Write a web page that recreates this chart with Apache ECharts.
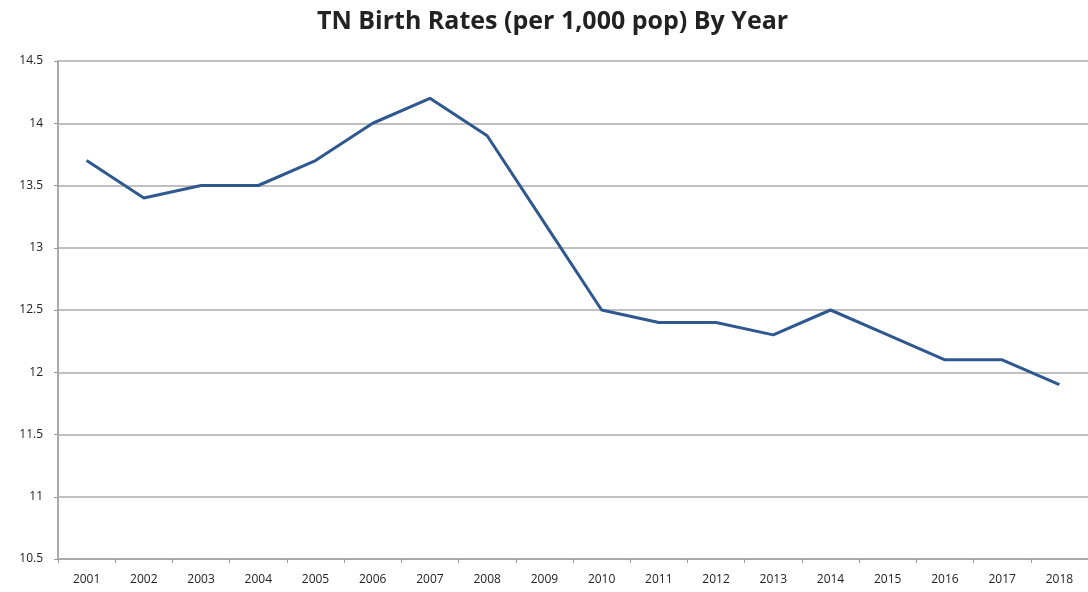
<!DOCTYPE html>
<html>
<head>
<meta charset="utf-8">
<script src="https://cdn.jsdelivr.net/npm/echarts@6/dist/echarts.min.js"></script>
<style>
  html, body { margin: 0; padding: 0; background: #fff; }
  #main { width: 1088px; height: 592px; }
</style>
</head>
<body>
<div id="main"></div>
<script>
var years = ['2001', '2002', '2003', '2004', '2005', '2006', '2007', '2008', '2009',
    '2010', '2011', '2012', '2013', '2014', '2015', '2016', '2017', '2018'];
var birthRates = [13.7, 13.4, 13.5, 13.5, 13.7, 14.0, 14.2, 13.9, 13.2,
    12.5, 12.4, 12.4, 12.3, 12.5, 12.3, 12.1, 12.1, 11.9];

var myChart = echarts.init(document.getElementById('main'));
var option = {
    animation: false,
    title: {
        text: 'TN Birth Rates (per 1,000 pop) By Year',
        left: 312,
        top: 4,
        textStyle: {
            fontFamily: 'Open Sans',
            fontWeight: 'bold',
            fontSize: 25,
            color: '#222'
        }
    },
    grid: {
        left: 58,
        top: 61,
        width: 1037,
        height: 498
    },
    xAxis: {
        type: 'category',
        data: years,
        boundaryGap: true,
        axisLine: {lineStyle: {color: '#aaa', width: 2}},
        axisTick: {show: true, length: 4, lineStyle: {color: '#999'}},
        axisLabel: {color: '#222', fontSize: 12, fontFamily: 'Open Sans', margin: 15}
    },
    yAxis: {
        type: 'value',
        min: 10.5,
        max: 14.5,
        interval: 0.5,
        axisLine: {show: true, lineStyle: {color: '#aaa', width: 2}},
        axisTick: {show: true, length: 4, lineStyle: {color: '#999'}},
        axisLabel: {color: '#222', fontSize: 12, fontFamily: 'Open Sans', margin: 15},
        splitLine: {lineStyle: {color: '#c0c0c0', width: 2}}
    },
    series: [{
        name: 'Birth Rate',
        type: 'line',
        data: birthRates,
        symbol: 'none',
        lineStyle: {color: '#2f5890', width: 3}
    }]
};
myChart.setOption(option);
</script>
</body>
</html>
